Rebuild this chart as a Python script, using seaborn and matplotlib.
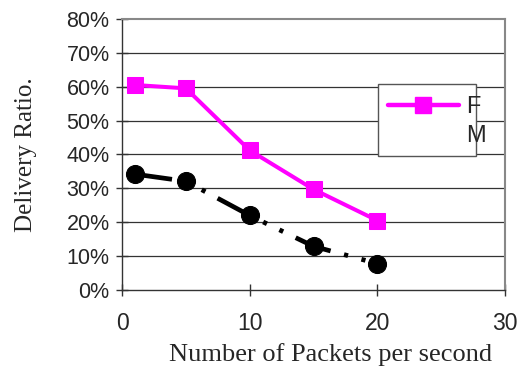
import numpy as np
import pandas as pd
import matplotlib
matplotlib.use("Agg")
import matplotlib.pyplot as plt
from matplotlib.lines import Line2D
from matplotlib.patches import Rectangle
from matplotlib.ticker import PercentFormatter
import seaborn as sns

# data
packets = [1, 5, 10, 15, 20]
ratio_f = [60.5, 59.5, 41.2, 29.7, 20.5]
ratio_m = [34.2, 32.1, 22.0, 12.9, 7.8]

sns.set_style("white")
plt.rcParams['font.family'] = ['Liberation Sans', 'DejaVu Sans']
plt.rcParams['lines.scale_dashes'] = False

df = pd.DataFrame({
    'packets': packets * 2,
    'ratio': ratio_f + ratio_m,
    'series': ['F'] * len(packets) + ['M'] * len(packets),
})

fig = plt.figure(figsize=(5.24, 3.70), dpi=100)
ax = fig.add_axes([0.233, 0.216, 0.731, 0.733])

# horizontal grid
for yv in range(10, 80, 10):
    ax.axhline(yv, color='#333333', lw=0.9, zorder=0)

sns.lineplot(data=df[df.series == 'F'], x='packets', y='ratio', ax=ax,
             color='#FF00FF', lw=2.9, marker='s', markersize=12,
             markeredgecolor='#FF00FF', legend=False, zorder=3)
sns.lineplot(data=df[df.series == 'M'], x='packets', y='ratio', ax=ax,
             color='black', lw=3.4, marker='o', markersize=13,
             markeredgecolor='black', legend=False, zorder=3)
# long dash - dot - dot
m_line = ax.lines[-1]
m_line.set_linestyle((0, (27, 10, 3, 10, 3, 10)))
m_line.set_dash_capstyle('butt')

ax.set_xlim(0, 30)
ax.set_ylim(0, 80)
ax.set_xticks([0, 10, 20, 30])
ax.set_yticks(np.arange(0, 81, 10))
ax.yaxis.set_major_formatter(PercentFormatter(decimals=0))
ax.tick_params(axis='both', direction='inout', length=8, width=1,
               color='#333333', bottom=True, left=True)
ax.tick_params(axis='x', pad=12, labelsize=16.5)
ax.tick_params(axis='y', pad=5, labelsize=15.5)

for side, sp in ax.spines.items():
    sp.set_visible(True)
    sp.set_color('#888888')
    sp.set_linewidth(1.5)
ax.spines['left'].set_color('#333333')
ax.spines['left'].set_linewidth(1)
ax.spines['bottom'].set_color('#333333')
ax.spines['bottom'].set_linewidth(1)

ax.set_xlabel('Number of Packets per second', family='Liberation Serif',
              fontsize=19)
ax.xaxis.set_label_coords(0.543, -0.239)
ax.xaxis.label.set_va('center')
ax.set_ylabel('Delivery Ratio.', family='Liberation Serif',
              fontsize=18, labelpad=21)

# legend box (text "F" runs over the right border like in the original)
ax.add_patch(Rectangle((0.668, 0.496), 0.256, 0.265, transform=ax.transAxes,
                       facecolor='white', edgecolor='#555555', lw=1, zorder=4))
handles = [
    Line2D([], [], color='#FF00FF', lw=3.2, marker='s', markersize=11,
           solid_capstyle='round'),
    Line2D([], [], color='white', lw=0),
]
leg = ax.legend(handles, ['F', 'M'], loc='upper left',
                bbox_to_anchor=(0.694, 0.715), frameon=False, fontsize=17,
                handlelength=3.0, handletextpad=0.3, borderpad=0,
                labelspacing=0.3, borderaxespad=0)
leg.set_zorder(5)

fig.savefig('out.png', dpi=100)
